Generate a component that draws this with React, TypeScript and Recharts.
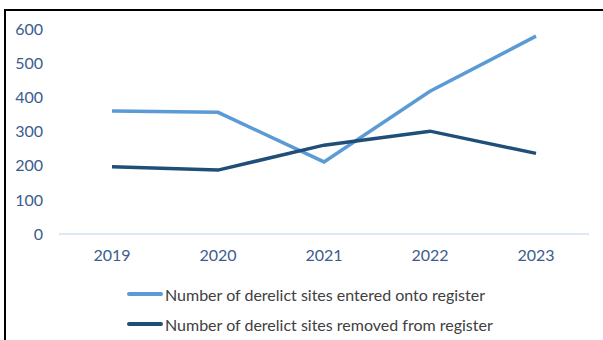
import { LineChart, Line, XAxis, YAxis, Legend } from 'recharts'

const years = ['2019', '2020', '2021', '2022', '2023']
const entered = [360, 356, 211, 418, 579]
const removed = [197, 187, 260, 301, 236]
const yTicks = [0, 100, 200, 300, 400, 500, 600]

const ENTERED_LABEL = 'Number of derelict sites entered onto register'
const REMOVED_LABEL = 'Number of derelict sites removed from register'

const data = years.map((year, i) => ({
  year,
  entered: entered[i],
  removed: removed[i],
}))

const FONT = 'Lato, "Open Sans", sans-serif'

function LegendBox() {
  const items = [
    { label: ENTERED_LABEL, color: '#5B9BD5' },
    { label: REMOVED_LABEL, color: '#1F4E79' },
  ]
  return (
    <div style={{ fontFamily: FONT }}>
      {items.map((it) => (
        <div
          key={it.label}
          style={{ display: 'flex', alignItems: 'center', height: 30 }}
        >
          <div
            style={{
              width: 36,
              height: 4,
              borderRadius: 2,
              background: it.color,
              marginRight: 2,
            }}
          />
          <span style={{ fontSize: 16, color: '#404040' }}>{it.label}</span>
        </div>
      ))}
    </div>
  )
}

export default function App() {
  return (
    <div
      style={{
        position: 'absolute',
        left: 0,
        top: 0,
        width: 603,
        height: 340,
        overflow: 'hidden',
        background: 'white',
      }}
    >
      <div
        style={{
          position: 'absolute',
          left: 4,
          top: 9,
          width: 800,
          height: 500,
          borderTop: '2px solid #000',
          borderLeft: '2px solid #000',
        }}
      />
      <div style={{ position: 'absolute', left: 0, top: 0 }}>
        <LineChart
          width={603}
          height={340}
          data={data}
          margin={{ top: 29, right: 14, left: 0, bottom: 0 }}
        >
          <XAxis
            dataKey="year"
            padding={{ left: 53, right: 53 }}
            axisLine={{ stroke: '#DCE8F5', strokeWidth: 2 }}
            tickLine={false}
            tickSize={0}
            tickMargin={16}
            height={46}
            tick={{ fontSize: 16, fill: '#3B5C8C', fontFamily: FONT }}
          />
          <YAxis
            domain={[0, 600]}
            ticks={yTicks}
            width={59}
            axisLine={false}
            tickLine={false}
            tickSize={0}
            tickMargin={16}
            tick={{ fontSize: 16, fill: '#3B5C8C', fontFamily: FONT }}
          />
          <Legend
            verticalAlign="bottom"
            height={60}
            content={() => <LegendBox />}
            wrapperStyle={{ left: 127, bottom: 1, width: 'auto' }}
          />
          <Line
            dataKey="entered"
            name={ENTERED_LABEL}
            stroke="#5B9BD5"
            strokeWidth={3.5}
            dot={false}
            isAnimationActive={false}
          />
          <Line
            dataKey="removed"
            name={REMOVED_LABEL}
            stroke="#1F4E79"
            strokeWidth={3.5}
            dot={false}
            isAnimationActive={false}
          />
        </LineChart>
      </div>
    </div>
  )
}
